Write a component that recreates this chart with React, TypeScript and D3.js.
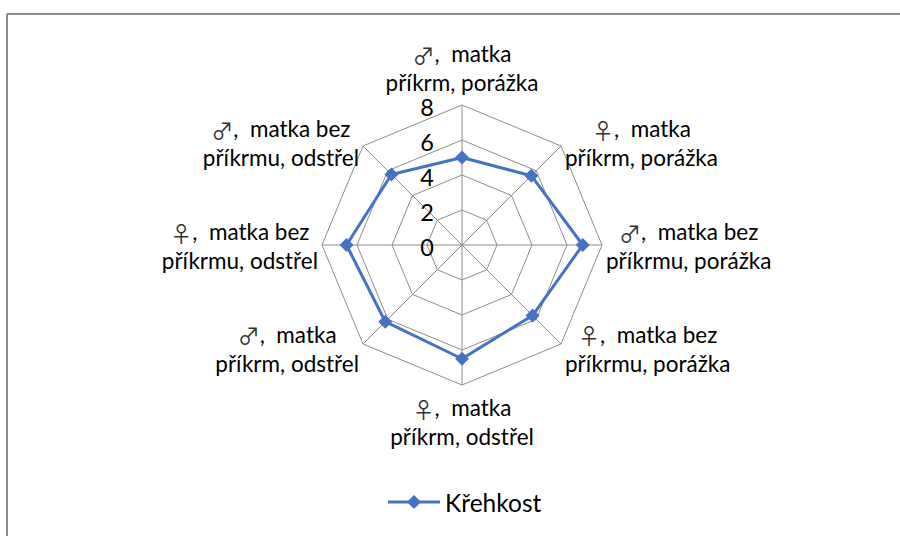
import { useMemo } from 'react';
import * as d3 from 'd3';

// axis categories, clockwise from the top: [symbol, rest of line 1, line 2]
const categories = [
  ['♂', ',  matka', 'příkrm, porážka'],
  ['♀', ',  matka', 'příkrm, porážka'],
  ['♂', ',  matka bez', 'příkrmu, porážka'],
  ['♀', ',  matka bez', 'příkrmu, porážka'],
  ['♀', ',  matka', 'příkrm, odstřel'],
  ['♂', ',  matka', 'příkrm, odstřel'],
  ['♀', ',  matka bez', 'příkrmu, odstřel'],
  ['♂', ',  matka bez', 'příkrmu, odstřel'],
];
const krehkost = [5.0, 5.6, 6.9, 5.7, 6.5, 6.2, 6.6, 5.7];
const ticks = [0, 2, 4, 6, 8];
const seriesName = 'Křehkost';

const W = 900;
const H = 536;
const cx = 462;
const cy = 245;
const R = 140;
const FONT = 'Lato, "DejaVu Sans", sans-serif';
const SYM_FONT = '"Noto Sans CJK JP", "DejaVu Sans", sans-serif';
const FS = 22.5;
const SYM_FS = 22;
const LINE = 29;
const BLUE = '#4472C4';
const GRID = '#8c8c8c';

function textWidth(s: string, size: number, font = FONT) {
  const ctx = document.createElement('canvas').getContext('2d');
  if (!ctx) return s.length * size * 0.5;
  ctx.font = `${size}px ${font}`;
  return ctx.measureText(s).width;
}

export default function App() {
  const r = d3.scaleLinear().domain([0, 8]).range([0, R]);
  const angle = (i: number) => (i * 2 * Math.PI) / categories.length;
  const pt = (i: number, v: number): [number, number] => [
    cx + r(v) * Math.sin(angle(i)),
    cy - r(v) * Math.cos(angle(i)),
  ];

  const ring = (v: number) =>
    d3.line().curve(d3.curveLinearClosed)(categories.map((_, i) => pt(i, v))) || '';
  const seriesPath =
    d3.line().curve(d3.curveLinearClosed)(krehkost.map((v, i) => pt(i, v))) || '';

  const labels = useMemo(
    () =>
      categories.map(([sym, first, second], i) => {
        const a = angle(i);
        const dx = Math.sin(a);
        const dy = -Math.cos(a);
        const [px, py] = pt(i, 8);
        const w1 = textWidth(sym, SYM_FS, SYM_FONT) + textWidth(first, FS);
        const w2 = textWidth(second, FS);
        const w = Math.max(w1, w2);
        const h = 2 * LINE;
        let bx: number;
        let by: number;
        if (Math.abs(dx) < 0.01) {
          bx = px;
          by = py + dy * (8 + h / 2);
        } else {
          bx = dx > 0 ? px + 4 + w / 2 : px - 4 - w / 2;
          by = py + 5 * dy + 1;
        }
        return { sym, first, second, bx, by, h };
      }),
    []
  );

  const marker = d3.symbol().type(d3.symbolSquare).size(98)() || '';

  return (
    <svg
      width={W}
      height={H}
      style={{ position: 'absolute', left: 0, top: 0, background: '#fff' }}
      fontFamily={FONT}
    >
      <rect x={0} y={0} width={W} height={H} fill="#fff" />
      <line x1={7} y1={14} x2={W} y2={14} stroke={GRID} strokeWidth={2} />
      <line x1={7} y1={14} x2={7} y2={H} stroke={GRID} strokeWidth={2} />

      {ticks.slice(1).map((t) => (
        <path key={t} d={ring(t)} fill="none" stroke={GRID} strokeWidth={1} />
      ))}
      {categories.map((_, i) => {
        const [x, y] = pt(i, 8);
        return <line key={i} x1={cx} y1={cy} x2={x} y2={y} stroke={GRID} strokeWidth={1} />;
      })}

      {ticks.map((t) => (
        <text
          key={t}
          x={cx - 28}
          y={cy - r(t) + 2}
          textAnchor="end"
          dominantBaseline="central"
          fontSize={23.5}
          fill="#000"
        >
          {t}
        </text>
      ))}

      <path d={seriesPath} fill="none" stroke={BLUE} strokeWidth={3} strokeLinejoin="round" />
      {krehkost.map((v, i) => {
        const [x, y] = pt(i, v);
        return (
          <path key={i} d={marker} transform={`translate(${x},${y}) rotate(45)`} fill={BLUE} />
        );
      })}

      {labels.map((l, i) => (
        <text key={i} textAnchor="middle" fontSize={FS} fill="#000">
          <tspan x={l.bx} y={l.by - l.h / 2 + LINE * 0.5} dominantBaseline="central">
            <tspan fontFamily={SYM_FONT} fontSize={SYM_FS} fill="#333">
              {l.sym}
            </tspan>
            <tspan style={{ whiteSpace: 'pre' }}>{l.first}</tspan>
          </tspan>
          <tspan x={l.bx} y={l.by - l.h / 2 + LINE * 1.5} dominantBaseline="central">
            {l.second}
          </tspan>
        </text>
      ))}

      <g transform="translate(388,502)">
        <line x1={0} x2={52} y1={0} y2={0} stroke={BLUE} strokeWidth={3} />
        <path d={marker} transform="translate(26,0) rotate(45)" fill={BLUE} />
        <text x={57} y={0} dominantBaseline="central" fontSize={24.5} fill="#000">
          {seriesName}
        </text>
      </g>
    </svg>
  );
}
